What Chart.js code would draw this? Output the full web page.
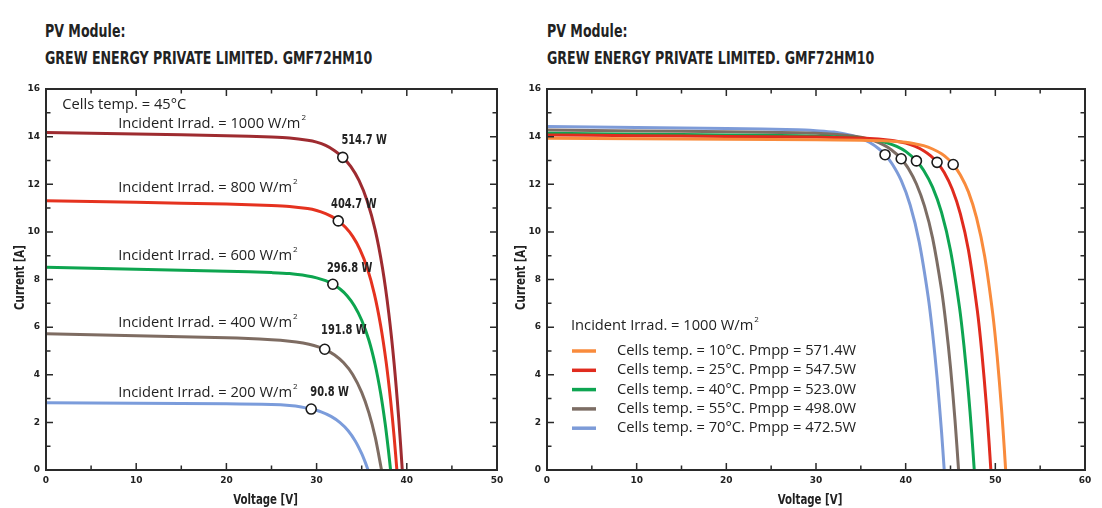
<!DOCTYPE html>
<html>
<head>
<meta charset="utf-8">
<script src="https://cdn.jsdelivr.net/npm/chart.js@4.4.1/dist/chart.umd.min.js"></script>
<style>
  body { margin: 0; width: 1102px; height: 508px; background: #fff; position: relative; overflow: hidden; }
  .title { position: absolute; top: 17px; font-family: 'DejaVu Sans', sans-serif; font-weight: bold; font-size: 18px;
           line-height: 27px; color: #222; white-space: nowrap; transform: scaleX(0.7); transform-origin: 0 0; }
  .box { position: absolute; top: 75px; height: 433px; }
</style>
</head>
<body>
<div class="title" style="left:45px">PV Module:<br>GREW ENERGY PRIVATE LIMITED. GMF72HM10</div>
<div class="title" style="left:547px">PV Module:<br>GREW ENERGY PRIVATE LIMITED. GMF72HM10</div>
<div class="box" style="left:0;width:520px"><canvas id="irr-chart"></canvas></div>
<div class="box" style="left:500px;width:602px"><canvas id="temp-chart"></canvas></div>
<script>
// ---- left chart: cells temp 45°C, varying irradiance  [voltage V, current A]
const irr1000 = [[0,14.17],[10,14.11],[20,14.04],[25,13.98],[27,13.94],[29,13.85],[30,13.77],[31,13.63],[32,13.41],[32.9,13.13],[33.8,12.74],[34.7,12.16],[35.6,11.31],[36.5,10.07],[37.3,8.49],[38,6.59],[38.6,4.45],[39.1,2.19],[39.5,0]];
const irr800  = [[0,11.31],[10,11.24],[20,11.17],[25,11.11],[27,11.07],[29,10.98],[30,10.9],[31,10.77],[31.7,10.64],[32.4,10.46],[33.2,10.19],[34,9.81],[34.8,9.27],[35.6,8.5],[36.4,7.4],[37.1,6.07],[37.7,4.56],[38.2,2.94],[38.6,1.37],[38.9,0]];
const irr600  = [[0,8.51],[10,8.43],[20,8.35],[25,8.29],[27,8.25],[29,8.15],[30,8.07],[31,7.95],[31.8,7.8],[32.6,7.6],[33.4,7.31],[34.2,6.89],[35,6.29],[35.8,5.45],[36.5,4.41],[37.1,3.22],[37.6,1.95],[37.95,0.87],[38.2,0]];
const irr400  = [[0,5.72],[10,5.64],[20,5.55],[25,5.47],[27,5.41],[28.5,5.33],[29.7,5.23],[30.9,5.07],[32,4.83],[33,4.5],[34,4.01],[35,3.26],[35.8,2.4],[36.5,1.38],[37.2,0]];
const irr200  = [[0,2.82],[10,2.8],[20,2.78],[25,2.75],[27,2.71],[28.3,2.65],[29.4,2.56],[30.5,2.44],[31.6,2.25],[32.6,1.99],[33.5,1.65],[34.3,1.21],[35,0.69],[35.4,0.32],[35.7,0]];
const irrMpp  = [[32.9,13.13],[32.4,10.46],[31.8,7.8],[30.9,5.07],[29.4,2.56]];
const irrLabels = ['1000', '800', '600', '400', '200'];
const irrPower  = ['514.7 W', '404.7 W', '296.8 W', '191.8 W', '90.8 W'];
const irrColors = ['#9e2b30', '#e5321f', '#0da54f', '#7e6c62', '#7b9cdb'];

// ---- right chart: 1000 W/m², varying cells temperature
const temp10 = [[0,13.93],[10,13.91],[20,13.89],[30,13.87],[35,13.85],[38,13.82],[40,13.76],[41,13.7],[42,13.62],[43,13.48],[44,13.28],[44.7,13.07],[45.3,12.83],[46.1,12.39],[47,11.68],[47.9,10.6],[48.8,9.0],[49.7,6.6],[50.2,4.79],[50.7,2.52],[51,0.9],[51.15,0]];
const temp25 = [[0,14.07],[10,14.04],[20,14.01],[30,13.98],[34,13.95],[36,13.92],[38,13.86],[39,13.81],[40,13.73],[41,13.6],[42,13.41],[42.8,13.19],[43.5,12.92],[44.3,12.49],[45.2,11.79],[46.1,10.76],[47,9.24],[48,6.67],[48.5,4.91],[49,2.72],[49.3,1.16],[49.5,0]];
const temp40 = [[0,14.14],[10,14.1],[20,14.07],[28,14.04],[30,14.02],[32,14.0],[34,13.97],[35,13.94],[36,13.89],[37,13.83],[38,13.73],[39,13.59],[40,13.38],[41.2,12.98],[42,12.59],[43,11.88],[44,10.82],[45,9.22],[46,6.84],[46.5,5.22],[47,3.25],[47.35,1.61],[47.65,0]];
const temp55 = [[0,14.28],[10,14.24],[20,14.2],[28,14.16],[30,14.14],[32,14.1],[34,14.03],[35,13.97],[36,13.88],[37,13.75],[38,13.55],[39,13.26],[39.5,13.07],[40.3,12.66],[41.2,12.01],[42.1,11.08],[43,9.75],[44,7.57],[44.5,6.1],[45,4.31],[45.5,2.11],[45.9,0]];
const temp70 = [[0,14.42],[10,14.38],[20,14.34],[28,14.29],[30,14.25],[32,14.19],[34,14.05],[35,13.93],[36,13.75],[37,13.49],[37.7,13.24],[38.5,12.85],[39.5,12.16],[40.5,11.13],[41.5,9.59],[42.5,7.3],[43,5.76],[43.5,3.89],[44,1.61],[44.3,0]];
const tempMpp = [[45.3,12.83],[43.5,12.92],[41.2,12.98],[39.5,13.07],[37.7,13.24]];
const tempLabels = ['10', '25', '40', '55', '70'];
const tempPmpp   = ['571.4W', '547.5W', '523.0W', '498.0W', '472.5W'];
const tempColors = ['#f98b3c', '#e02b1e', '#0ea552', '#7c6d64', '#7d9bd8'];

const BOLD_FONT = "'DejaVu Sans', sans-serif";
const TEXT_FONT = "'Open Sans', 'Noto Sans', sans-serif";
const INK = '#222';

const toXY = pairs => pairs.map(([x, y]) => ({ x, y }));

function curveSet(pairs, color, order) {
  return {
    data: toXY(pairs),
    showLine: true,
    borderColor: color,
    borderWidth: 3,
    pointRadius: 0,
    tension: 0.3,
    order,
  };
}

function mppSet(pairs) {
  return {
    data: toXY(pairs),
    showLine: false,
    pointRadius: 5,
    pointBorderWidth: 1.6,
    pointBackgroundColor: '#fff',
    pointBorderColor: '#1a1a1a',
    order: 0,
  };
}

// bold text squeezed horizontally (the original uses a condensed face)
function drawNarrow(ctx, text, px, py, size, align, rotate) {
  ctx.save();
  ctx.translate(px, py);
  if (rotate) ctx.rotate(-Math.PI / 2);
  ctx.scale(0.73, 1);
  ctx.font = 'bold ' + size + 'px ' + BOLD_FONT;
  ctx.textAlign = align;
  ctx.textBaseline = 'middle';
  ctx.fillText(text, 0, 0);
  ctx.restore();
}

// Frame around the plot with inward ticks on all four sides, plus axis titles
const frameTicks = {
  id: 'frameTicks',
  afterDraw(chart) {
    const { ctx, chartArea: a, scales: { x, y } } = chart;
    ctx.save();
    ctx.strokeStyle = '#2a2a2a';
    ctx.lineWidth = 1.5;
    ctx.beginPath();
    for (let v = 0; v <= x.max; v += 5) {
      const px = x.getPixelForValue(v);
      const len = v % 10 === 0 ? 7 : 4.5;
      ctx.moveTo(px, a.bottom); ctx.lineTo(px, a.bottom - len);
      ctx.moveTo(px, a.top); ctx.lineTo(px, a.top + len);
    }
    for (let v = 0; v <= y.max; v += 1) {
      const py = y.getPixelForValue(v);
      const len = v % 2 === 0 ? 7 : 4.5;
      ctx.moveTo(a.left, py); ctx.lineTo(a.left + len, py);
      ctx.moveTo(a.right, py); ctx.lineTo(a.right - len, py);
    }
    ctx.stroke();
    ctx.lineWidth = 2;
    ctx.strokeRect(a.left, a.top, a.right - a.left, a.bottom - a.top);
    ctx.fillStyle = INK;
    drawNarrow(ctx, 'Voltage [V]', (a.left + a.right) / 2 - 6, a.bottom + 30, 14, 'center');
    drawNarrow(ctx, 'Current [A]', a.left - 26, (a.top + a.bottom) / 2 - 2, 14, 'center', true);
    ctx.restore();
  }
};

// text with optional superscript, left aligned, vertically centred
function drawText(ctx, text, px, py, sup) {
  ctx.font = '14.7px ' + TEXT_FONT;
  ctx.textAlign = 'left';
  ctx.textBaseline = 'middle';
  ctx.fillText(text, px, py);
  if (sup) {
    const w = ctx.measureText(text).width;
    ctx.font = '8px ' + TEXT_FONT;
    ctx.fillText(sup, px + w + 1, py - 6);
  }
}

const irrText = {
  id: 'irrText',
  afterDatasetsDraw(chart) {
    const { ctx, scales: { x, y } } = chart;
    ctx.save();
    ctx.fillStyle = INK;
    drawText(ctx, 'Cells temp. = 45°C', x.getPixelForValue(1.8), y.getPixelForValue(15.35));
    const irrY = [14.55, 11.84, 9.0, 6.17, 3.25];
    const powX = [32.75, 31.6, 31.15, 30.5, 29.3];
    const powY = [13.82, 11.15, 8.48, 5.86, 3.25];
    irrLabels.forEach((lab, i) => {
      drawText(ctx, 'Incident Irrad. = ' + lab + ' W/m', x.getPixelForValue(8.0), y.getPixelForValue(irrY[i]), '2');
      drawNarrow(ctx, irrPower[i], x.getPixelForValue(powX[i]), y.getPixelForValue(powY[i]), 13.5, 'left');
    });
    ctx.restore();
  }
};

const tempLegend = {
  id: 'tempLegend',
  afterDatasetsDraw(chart) {
    const { ctx, chartArea: a } = chart;
    ctx.save();
    ctx.fillStyle = INK;
    drawText(ctx, 'Incident Irrad. = 1000 W/m', a.left + 24, a.top + 237, '2');
    tempLabels.forEach((t, i) => {
      const py = a.top + 262 + i * 19.3;
      ctx.strokeStyle = tempColors[i];
      ctx.lineWidth = 3.5;
      ctx.beginPath();
      ctx.moveTo(a.left + 25, py); ctx.lineTo(a.left + 49, py);
      ctx.stroke();
      drawText(ctx, 'Cells temp. = ' + t + '°C. Pmpp = ' + tempPmpp[i], a.left + 70, py);
    });
    ctx.restore();
  }
};

function makeOptions(xMax, axisWidth, padRight) {
  const tickFont = { family: BOLD_FONT, size: 9, weight: 'bold' };
  return {
    responsive: true,
    maintainAspectRatio: false,
    animation: false,
    layout: { padding: { left: 0, right: padRight, top: 14, bottom: 0 } },
    plugins: { legend: { display: false }, tooltip: { enabled: false } },
    scales: {
      x: {
        type: 'linear', min: 0, max: xMax,
        ticks: { stepSize: 10, color: INK, font: tickFont, padding: 5, maxRotation: 0 },
        grid: { display: false, drawTicks: false },
        border: { display: false },
        afterFit: s => { s.height = 38; },
      },
      y: {
        type: 'linear', min: 0, max: 16,
        ticks: { stepSize: 2, color: INK, font: tickFont, padding: 6 },
        grid: { display: false, drawTicks: false },
        border: { display: false },
        afterFit: s => { s.width = axisWidth; },
      },
    },
  };
}

new Chart(document.getElementById('irr-chart'), {
  type: 'scatter',
  data: {
    datasets: [
      mppSet(irrMpp),
      ...[irr1000, irr800, irr600, irr400, irr200].map((c, i) => curveSet(c, irrColors[i], i + 1)),
    ],
  },
  options: makeOptions(50, 46, 23),
  plugins: [frameTicks, irrText],
});

new Chart(document.getElementById('temp-chart'), {
  type: 'scatter',
  data: {
    datasets: [
      mppSet(tempMpp),
      ...[temp10, temp25, temp40, temp55, temp70].map((c, i) => curveSet(c, tempColors[i], i + 1)),
    ],
  },
  options: makeOptions(60, 47, 17),
  plugins: [frameTicks, tempLegend],
});
</script>
</body>
</html>
